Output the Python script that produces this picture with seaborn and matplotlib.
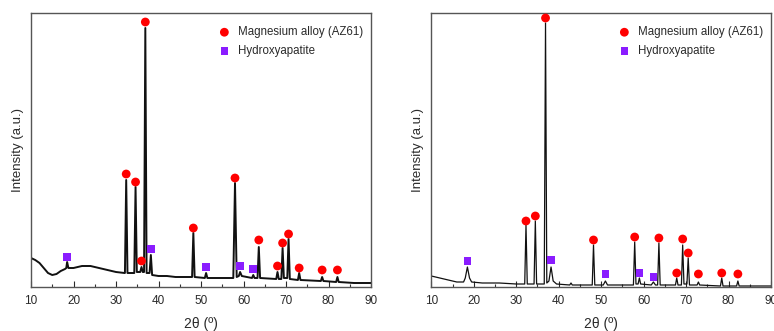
import matplotlib
matplotlib.use("Agg")
import matplotlib.pyplot as plt
import seaborn as sns
import pandas as pd

# ---- data ----
# Left panel trace
left_x = [10, 11, 12, 13, 14, 15, 16, 17, 18, 18.3, 18.5, 18.8, 20, 22, 24, 26, 28, 30, 32,
          32.1, 32.4, 32.7, 34.3, 34.6, 34.9, 35.7, 36.0, 36.3, 36.6, 36.9, 37.2, 37.9, 38.2, 38.5,
          40, 42, 44, 46, 47.9, 48.2, 48.5, 50.9, 51.2, 51.5, 55, 57.6, 58.0, 58.4, 58.9, 59.2, 59.6,
          62.0, 62.3, 62.6, 63.3, 63.6, 63.9, 67.7, 68.0, 68.3, 68.9, 69.2, 69.5, 70.3, 70.6, 70.9,
          72.8, 73.1, 73.4, 78.2, 78.5, 78.8, 81.8, 82.1, 82.4, 86, 90]
left_y = [29, 27, 24, 19, 14, 12, 13, 16, 18, 19, 25, 19, 19, 21, 21, 19, 17, 15, 14,
          14, 107, 14, 14, 100, 15, 15, 20, 15, 15, 259, 14, 14, 32, 12,
          11, 11, 10, 10, 10, 54, 10, 9, 14, 9, 9, 9, 104, 10, 11, 15, 11,
          9, 12, 9, 9, 40, 9, 8, 15, 8, 8, 39, 9, 9, 48, 8,
          7, 14, 7, 6, 10, 6, 5, 10, 5, 4, 4]
left_mg_x = [32.4, 34.6, 36.0, 36.9, 48.2, 58.0, 63.6, 68.0, 69.2, 70.6, 73.1, 78.5, 82.1]
left_mg_y = [113, 105, 26, 265, 59, 109, 47, 21, 44, 53, 19, 17, 17]
left_ha_x = [18.5, 38.2, 51.2, 59.2, 62.3]
left_ha_y = [30, 38, 20, 21, 18]

# Right panel trace
right_x = [10, 11, 12, 14, 16, 17.6, 18.0, 18.5, 19.0, 19.5, 22, 26, 30, 32.0, 32.3, 32.6,
           34.2, 34.5, 34.8, 36.6, 36.9, 37.2, 37.7, 38.2, 38.7, 39.5, 42.6, 42.9, 43.2,
           47.9, 48.2, 48.5, 50.5, 51.0, 51.5, 57.6, 57.9, 58.2, 58.7, 59.0, 59.3, 61.8, 62.3, 62.8,
           63.3, 63.6, 63.9, 67.5, 67.8, 68.1, 68.9, 69.2, 69.5, 70.2, 70.5, 70.8, 72.6, 72.9, 73.2,
           78.1, 78.4, 78.7, 81.9, 82.2, 82.5, 90]
right_y = [11, 10, 9, 7, 5, 5, 9, 20, 9, 5, 4, 4, 3, 3, 62, 3,
           3, 66, 3, 3, 264, 4, 6, 20, 6, 3, 2, 4, 2,
           2, 42, 2, 2, 6, 2, 2, 45, 3, 3, 9, 3, 2, 5, 2,
           2, 44, 2, 2, 9, 2, 2, 42, 3, 3, 29, 2, 2, 5, 2,
           1, 9, 1, 1, 6, 1, 1]
right_mg_x = [32.3, 34.5, 36.9, 48.2, 57.9, 63.6, 67.8, 69.2, 70.5, 72.9, 78.4, 82.2]
right_mg_y = [66, 71, 269, 47, 50, 49, 14, 48, 34, 13, 14, 13]
right_ha_x = [18.5, 38.2, 51.0, 59.0, 62.3]
right_ha_y = [26, 27, 13, 14, 10]

xticks = [10, 20, 30, 40, 50, 60, 70, 80, 90]
mg_label = "Magnesium alloy (AZ61)"
ha_label = "Hydroxyapatite"
xlabel = "2θ (º)"
ylabel = "Intensity (a.u.)"

# ---- style ----
sns.set_style("ticks")
plt.rcParams["font.family"] = ["Liberation Sans", "DejaVu Sans"]

fig = plt.figure(figsize=(7.74, 3.31), dpi=100)
W, H = 774, 331
axL = fig.add_axes([31 / W, (H - 287) / H, 340 / W, 274 / H])
axR = fig.add_axes([431.3 / W, (H - 287) / H, 339.7 / W, 274 / H])

panels = [
    (axL, left_x, left_y, left_mg_x, left_mg_y, left_ha_x, left_ha_y, 1.4),
    (axR, right_x, right_y, right_mg_x, right_mg_y, right_ha_x, right_ha_y, 0.9),
]

for ax, tx, ty, mx, my, hx, hy, lw in panels:
    sns.lineplot(x=tx, y=ty, ax=ax, color="#111111", linewidth=lw, sort=False)
    sns.scatterplot(x=mx, y=my, ax=ax, marker="o", color="#ff0000", s=40,
                    edgecolor="none", label=mg_label, zorder=5)
    sns.scatterplot(x=hx, y=hy, ax=ax, marker="s", color="#8a1cff", s=30,
                    edgecolor="none", label=ha_label, zorder=5)
    ax.set_xlim(10, 90)
    ax.set_ylim(0, 274)
    ax.set_xticks(xticks)
    ax.set_xticks(range(15, 90, 10), minor=True)
    ax.set_yticks([])
    ax.tick_params(axis="x", which="major", direction="in", length=4, width=0.8,
                   labelsize=8.5, colors="#2a2a2a", pad=6)
    ax.tick_params(axis="x", which="minor", direction="in", length=2.5, width=0.8,
                   colors="#333333")
    for sp in ax.spines.values():
        sp.set_visible(True)
        sp.set_color("#555555")
        sp.set_linewidth(1.0)
    ax.set_xlabel(xlabel, fontsize=10, color="#2a2a2a", labelpad=7)
    ax.set_ylabel(ylabel, fontsize=9.5, color="#2a2a2a", labelpad=5)
    ax.legend(loc="upper right", bbox_to_anchor=(1 + 5 / 340, 1.0), frameon=False,
              fontsize=8.3, handletextpad=0.15, labelspacing=0.6, borderaxespad=0.75,
              labelcolor="#2a2a2a", markerscale=1.0)

fig.savefig("out.png", dpi=100)
